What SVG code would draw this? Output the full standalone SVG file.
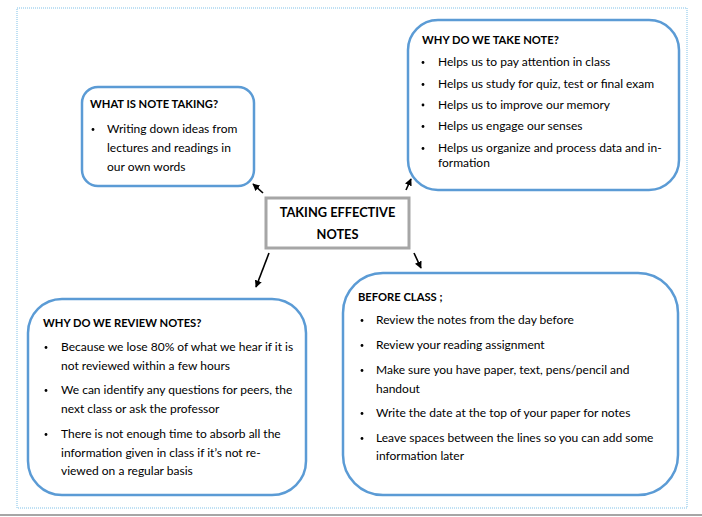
<svg xmlns="http://www.w3.org/2000/svg" width="702" height="517" viewBox="0 0 702 517">
<style>
.box{fill:#fff;stroke:#5B9BD5;stroke-width:2.5}
.t{font-family:Lato,"Open Sans","Liberation Sans",sans-serif;font-size:12px;fill:#000}
.h{font-family:Lato,"Open Sans","Liberation Sans",sans-serif;font-size:11.2px;font-weight:bold;fill:#000}
.c{font-family:Lato,"Open Sans","Liberation Sans",sans-serif;font-size:12.8px;font-weight:bold;fill:#000;text-anchor:middle}
.b{fill:#000}
.con{stroke:#000;stroke-width:1.6;fill:none;marker-end:url(#ah)}
</style>
<defs>
<marker id="ah" viewBox="0 0 10 10" refX="9" refY="5" markerWidth="4.5" markerHeight="4.5" orient="auto" markerUnits="strokeWidth">
<path d="M0,0 L10,5 L0,10 z" fill="#000"/>
</marker>
</defs>
<rect x="0" y="0" width="702" height="517" fill="#fff"/>
<rect x="17" y="8" width="670" height="500" fill="none" stroke="#7FC1E8" stroke-width="1" stroke-dasharray="1,1"/>
<line x1="0" y1="515" x2="702" y2="515" stroke="#A6A6A6" stroke-width="2"/>

<g id="connectors">
<line class="con" x1="263" y1="193" x2="253" y2="184"/>
<line class="con" x1="406" y1="190" x2="411" y2="179"/>
<line class="con" x1="269" y1="253" x2="256" y2="287"/>
<line class="con" x1="414" y1="253" x2="421" y2="268"/>
</g>

<g id="center">
<rect x="266" y="198" width="143" height="50" fill="#fff" stroke="#A6A6A6" stroke-width="3"/>
<text class="c" x="337.5" y="216.5">TAKING EFFECTIVE</text>
<text class="c" x="337.5" y="239">NOTES</text>
</g>

<g id="what-is-note-taking">
<rect class="box" x="82" y="87" width="172" height="99" rx="16"/>
<text class="h" x="90" y="108">WHAT IS NOTE TAKING?</text>
<circle class="b" cx="93" cy="129.5" r="1.4"/>
<text class="t" x="107" y="133">Writing down ideas from</text>
<text class="t" x="107" y="152">lectures and readings in</text>
<text class="t" x="107" y="171">our own words</text>
</g>

<g id="why-take-note">
<rect class="box" x="408" y="20" width="271" height="170" rx="30"/>
<text class="h" x="422" y="44">WHY DO WE TAKE NOTE?</text>
<circle class="b" cx="423" cy="62.5" r="1.4"/>
<text class="t" x="438" y="66">Helps us to pay attention in class</text>
<circle class="b" cx="423" cy="84.5" r="1.4"/>
<text class="t" x="438" y="88">Helps us study for quiz, test or final exam</text>
<circle class="b" cx="423" cy="105" r="1.4"/>
<text class="t" x="438" y="108.5">Helps us to improve our memory</text>
<circle class="b" cx="423" cy="126.5" r="1.4"/>
<text class="t" x="438" y="130">Helps us engage our senses</text>
<circle class="b" cx="423" cy="148.5" r="1.4"/>
<text class="t" x="438" y="152">Helps us organize and process data and in-</text>
<text class="t" x="438" y="167">formation</text>
</g>

<g id="why-review-notes">
<rect class="box" x="28" y="299" width="278" height="196" rx="34"/>
<text class="h" x="43" y="327">WHY DO WE REVIEW NOTES?</text>
<circle class="b" cx="46" cy="347.5" r="1.4"/>
<text class="t" x="61" y="351">Because we lose 80% of what we hear if it is</text>
<text class="t" x="61" y="369.5">not reviewed within a few hours</text>
<circle class="b" cx="46" cy="390.5" r="1.4"/>
<text class="t" x="61" y="394">We can identify any questions for peers, the</text>
<text class="t" x="61" y="413">next class or ask the professor</text>
<circle class="b" cx="46" cy="434.5" r="1.4"/>
<text class="t" x="61" y="438">There is not enough time to absorb all the</text>
<text class="t" x="61" y="457">information given in class if it’s not re-</text>
<text class="t" x="61" y="475">viewed on a regular basis</text>
</g>

<g id="before-class">
<rect class="box" x="343" y="273" width="335" height="222" rx="40"/>
<text class="h" x="358" y="301">BEFORE CLASS ;</text>
<circle class="b" cx="362" cy="320.5" r="1.4"/>
<text class="t" x="376" y="324">Review the notes from the day before</text>
<circle class="b" cx="362" cy="345.5" r="1.4"/>
<text class="t" x="376" y="349">Review your reading assignment</text>
<circle class="b" cx="362" cy="370.5" r="1.4"/>
<text class="t" x="376" y="374">Make sure you have paper, text, pens/pencil and</text>
<text class="t" x="376" y="392.5">handout</text>
<circle class="b" cx="362" cy="413.5" r="1.4"/>
<text class="t" x="376" y="417">Write the date at the top of your paper for notes</text>
<circle class="b" cx="362" cy="438.5" r="1.4"/>
<text class="t" x="376" y="442">Leave spaces between the lines so you can add some</text>
<text class="t" x="376" y="460">information later</text>
</g>
</svg>
